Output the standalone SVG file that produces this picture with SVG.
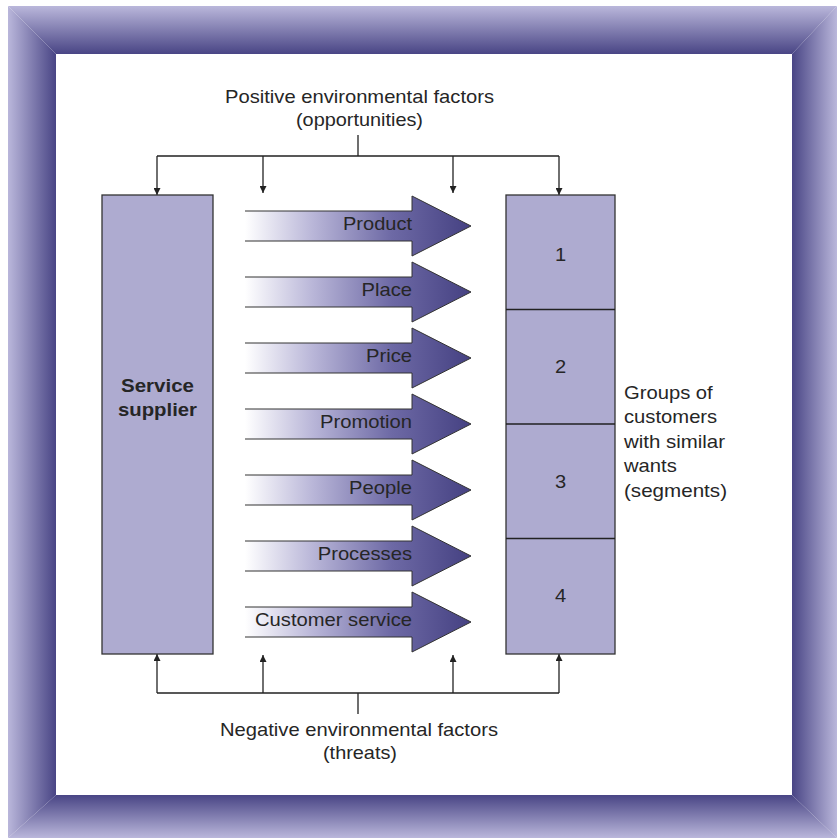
<svg xmlns="http://www.w3.org/2000/svg" width="837" height="838" viewBox="0 0 837 838">
<defs>
<linearGradient id="gTop" gradientUnits="userSpaceOnUse" x1="0" y1="6" x2="0" y2="54"><stop offset="0" stop-color="#bab7db"/><stop offset="1" stop-color="#494585"/></linearGradient>
<linearGradient id="gBot" gradientUnits="userSpaceOnUse" x1="0" y1="838" x2="0" y2="795"><stop offset="0" stop-color="#bab7db"/><stop offset="1" stop-color="#494585"/></linearGradient>
<linearGradient id="gLeft" gradientUnits="userSpaceOnUse" x1="8" y1="0" x2="56" y2="0"><stop offset="0" stop-color="#bab7db"/><stop offset="1" stop-color="#494585"/></linearGradient>
<linearGradient id="gRight" gradientUnits="userSpaceOnUse" x1="837" y1="0" x2="792" y2="0"><stop offset="0" stop-color="#bab7db"/><stop offset="1" stop-color="#494585"/></linearGradient>
<linearGradient id="gArrow" gradientUnits="userSpaceOnUse" x1="245" y1="0" x2="471" y2="0"><stop offset="0" stop-color="#ffffff"/><stop offset="0.3" stop-color="#b9b6d8"/><stop offset="0.65" stop-color="#6d69a5"/><stop offset="1" stop-color="#454182"/></linearGradient>
<marker id="ah" viewBox="0 0 10 10" refX="10" refY="5" markerWidth="7" markerHeight="7" markerUnits="userSpaceOnUse" orient="auto"><path d="M0,0 L10,5 L0,10 z" fill="#222"/></marker>
<path id="arrowShape" d="M245,211 H412 V196 L471,226 L412,256 V241 H245 Z"/>
</defs>
<style>
.t{font-family:"Liberation Sans",Arial,sans-serif;font-size:18.5px;fill:#262626}
.b{font-weight:bold}
.box{fill:#aeabd0;stroke:#333;stroke-width:1.3}
.ln{fill:none;stroke:#222;stroke-width:1.3}
.af{fill:url(#gArrow)}
.as{fill:none;stroke:#333;stroke-width:1}
</style>
<rect width="837" height="838" fill="#fff"/>
<g id="frame">
<polygon points="8,6 837,6 792,54 56,54" fill="url(#gTop)"/>
<polygon points="8,838 56,795 792,795 837,838" fill="url(#gBot)"/>
<polygon points="8,6 56,54 56,795 8,838" fill="url(#gLeft)"/>
<polygon points="837,6 837,838 792,795 792,54" fill="url(#gRight)"/>
</g>
<g id="connectors">
<path class="ln" d="M358,135 V156 M157,156 H559"/>
<path class="ln" marker-end="url(#ah)" d="M157,156 V195"/>
<path class="ln" marker-end="url(#ah)" d="M263,156 V193"/>
<path class="ln" marker-end="url(#ah)" d="M453,156 V193"/>
<path class="ln" marker-end="url(#ah)" d="M559,156 V195"/>
<path class="ln" d="M358,714 V693 M157,693 H559"/>
<path class="ln" marker-end="url(#ah)" d="M157,693 V654"/>
<path class="ln" marker-end="url(#ah)" d="M263,693 V655"/>
<path class="ln" marker-end="url(#ah)" d="M453,693 V655"/>
<path class="ln" marker-end="url(#ah)" d="M559,693 V654"/>
</g>
<g id="positive">
<text class="t" x="359.5" y="102.5" text-anchor="middle" textLength="269" lengthAdjust="spacingAndGlyphs">Positive environmental factors</text>
<text class="t" x="359.5" y="125.5" text-anchor="middle" textLength="127" lengthAdjust="spacingAndGlyphs">(opportunities)</text>
</g>
<g id="negative">
<text class="t" x="359" y="736" text-anchor="middle" textLength="278" lengthAdjust="spacingAndGlyphs">Negative environmental factors</text>
<text class="t" x="360" y="758.5" text-anchor="middle" textLength="74" lengthAdjust="spacingAndGlyphs">(threats)</text>
</g>
<g id="supplier">
<rect class="box" x="102" y="195" width="111" height="459"/>
<text class="t b" x="157.5" y="392" text-anchor="middle" textLength="73" lengthAdjust="spacingAndGlyphs">Service</text>
<text class="t b" x="157.5" y="416" text-anchor="middle" textLength="79" lengthAdjust="spacingAndGlyphs">supplier</text>
</g>
<g id="segments">
<rect class="box" x="506" y="195" width="109" height="459"/>
<path class="ln" d="M506,309.5 H615 M506,424 H615 M506,538.5 H615"/>
<text class="t" x="560.5" y="261" text-anchor="middle" textLength="11.2" lengthAdjust="spacingAndGlyphs">1</text>
<text class="t" x="560.5" y="373" text-anchor="middle" textLength="11.2" lengthAdjust="spacingAndGlyphs">2</text>
<text class="t" x="560.5" y="488" text-anchor="middle" textLength="11.2" lengthAdjust="spacingAndGlyphs">3</text>
<text class="t" x="560.5" y="602" text-anchor="middle" textLength="11.2" lengthAdjust="spacingAndGlyphs">4</text>
</g>
<g id="groups-label">
<text class="t" x="624" y="398.5" textLength="88.7" lengthAdjust="spacingAndGlyphs">Groups of</text>
<text class="t" x="624" y="423" textLength="93.2" lengthAdjust="spacingAndGlyphs">customers</text>
<text class="t" x="624" y="447.5" textLength="101" lengthAdjust="spacingAndGlyphs">with similar</text>
<text class="t" x="624" y="472" textLength="52.8" lengthAdjust="spacingAndGlyphs">wants</text>
<text class="t" x="624" y="496.5" textLength="103" lengthAdjust="spacingAndGlyphs">(segments)</text>
</g>
<g id="arrow-product">
<use href="#arrowShape" class="af"/>
<path class="as" d="M245,211 H412 V196 L471,226 L412,256 V241 H245"/>
<text class="t" x="412" y="230" text-anchor="end" textLength="69" lengthAdjust="spacingAndGlyphs">Product</text>
</g>
<g id="arrow-place" transform="translate(0,66)">
<use href="#arrowShape" class="af"/>
<path class="as" d="M245,211 H412 V196 L471,226 L412,256 V241 H245"/>
<text class="t" x="412" y="230" text-anchor="end" textLength="50.5" lengthAdjust="spacingAndGlyphs">Place</text>
</g>
<g id="arrow-price" transform="translate(0,132)">
<use href="#arrowShape" class="af"/>
<path class="as" d="M245,211 H412 V196 L471,226 L412,256 V241 H245"/>
<text class="t" x="412" y="230" text-anchor="end" textLength="46" lengthAdjust="spacingAndGlyphs">Price</text>
</g>
<g id="arrow-promotion" transform="translate(0,198)">
<use href="#arrowShape" class="af"/>
<path class="as" d="M245,211 H412 V196 L471,226 L412,256 V241 H245"/>
<text class="t" x="412" y="230" text-anchor="end" textLength="92" lengthAdjust="spacingAndGlyphs">Promotion</text>
</g>
<g id="arrow-people" transform="translate(0,264)">
<use href="#arrowShape" class="af"/>
<path class="as" d="M245,211 H412 V196 L471,226 L412,256 V241 H245"/>
<text class="t" x="412" y="230" text-anchor="end" textLength="62.9" lengthAdjust="spacingAndGlyphs">People</text>
</g>
<g id="arrow-processes" transform="translate(0,330)">
<use href="#arrowShape" class="af"/>
<path class="as" d="M245,211 H412 V196 L471,226 L412,256 V241 H245"/>
<text class="t" x="412" y="230" text-anchor="end" textLength="94.3" lengthAdjust="spacingAndGlyphs">Processes</text>
</g>
<g id="arrow-customer-service" transform="translate(0,396)">
<use href="#arrowShape" class="af"/>
<path class="as" d="M245,211 H412 V196 L471,226 L412,256 V241 H245"/>
<text class="t" x="412" y="230" text-anchor="end" textLength="157" lengthAdjust="spacingAndGlyphs">Customer service</text>
</g>
</svg>
